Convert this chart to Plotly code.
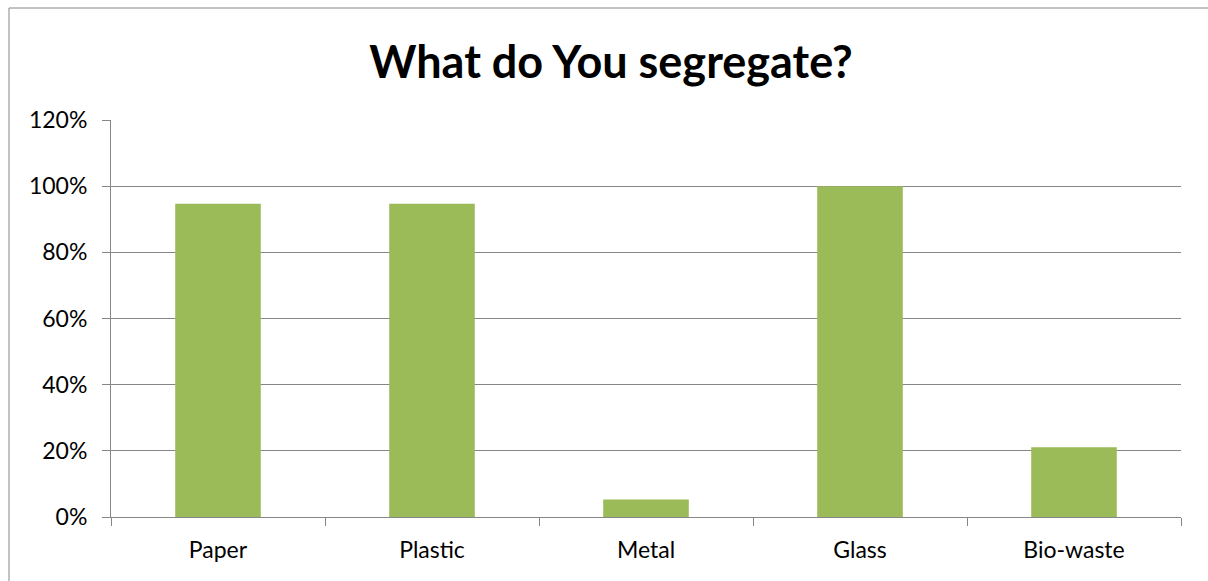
import plotly.graph_objects as go

categories = ["Paper", "Plastic", "Metal", "Glass", "Bio-waste"]
values = [0.947, 0.947, 0.053, 1.0, 0.211]
y_ticks = [0, 0.2, 0.4, 0.6, 0.8, 1.0, 1.2]
y_tick_labels = ["0%", "20%", "40%", "60%", "80%", "100%", "120%"]

W, H = 1208, 581
ml, mr, mt, mb = 111, 27, 120, 64
pw, ph = W - ml - mr, H - mt - mb

fig = go.Figure(go.Bar(x=categories, y=values, marker=dict(color="#9BBB59", line=dict(width=0))))

grid = "#868686"
fig.update_layout(
    width=W, height=H,
    margin=dict(l=ml, r=mr, t=mt, b=mb, autoexpand=False),
    paper_bgcolor="white", plot_bgcolor="white",
    bargap=0.6,
    showlegend=False,
    font=dict(family="Lato", color="black"),
    title=dict(text="<b>What do You segregate?</b>", x=611 / W, xanchor="center",
               y=1 - 62 / H, yanchor="middle", font=dict(family="Lato", size=45, color="black")),
    xaxis=dict(type="category", showgrid=False, showline=True, linecolor=grid, linewidth=1,
               ticks="outside", ticklen=8, tickcolor=grid, tickson="boundaries",
               tickfont=dict(size=23, color="black"), ticklabelstandoff=12),
    yaxis=dict(range=[0, 1.2], tickvals=y_ticks, ticktext=y_tick_labels, showgrid=True,
               gridcolor=grid, gridwidth=1, showline=True, linecolor=grid, linewidth=1,
               ticks="outside", ticklen=8, tickcolor=grid, zeroline=False,
               tickfont=dict(size=23, color="black"), ticklabelstandoff=10),
)
# chart border
fig.add_shape(type="rect", xref="paper", yref="paper",
              x0=(9 - ml) / pw, x1=1.2, y0=-1, y1=(H - mb - 8) / ph,
              line=dict(color=grid, width=1), fillcolor="rgba(0,0,0,0)", layer="below")

fig.write_html("out.html")
